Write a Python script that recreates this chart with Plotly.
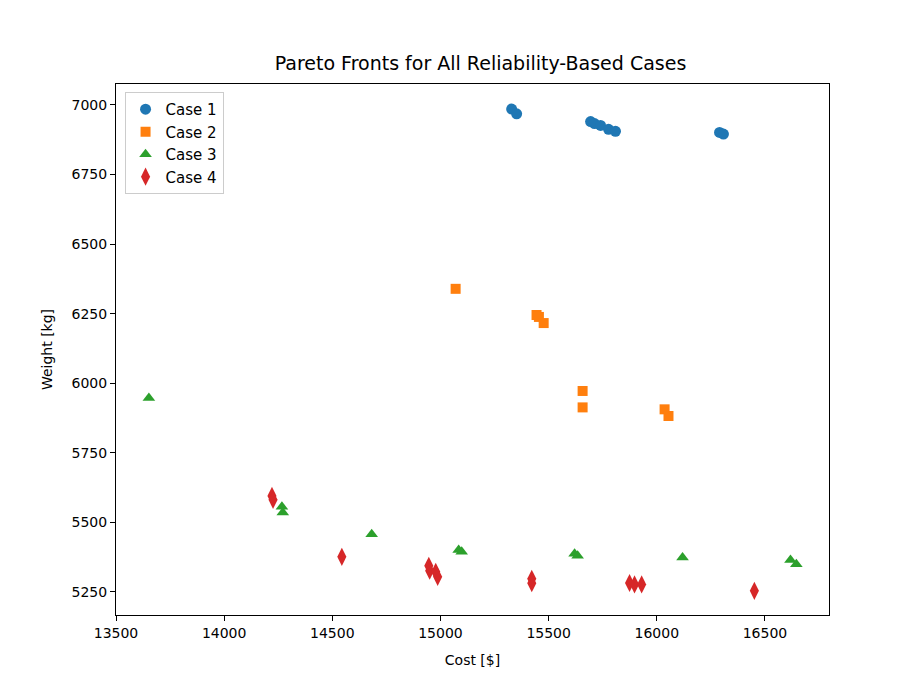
import plotly.graph_objects as go

case1_cost = [15329, 15352, 15694, 15712, 15740, 15777, 15809, 16290, 16308]
case1_weight = [6985, 6968, 6940, 6933, 6926, 6912, 6905, 6901, 6895]
case2_cost = [15070, 15444, 15455, 15477, 15657, 15657, 16036, 16054]
case2_weight = [6339, 6245, 6238, 6216, 5972, 5913, 5906, 5882]
case3_cost = [13652, 14267, 14271, 14682, 15084, 15098, 15620, 15634, 16119, 16618, 16645]
case3_weight = [5947, 5556, 5535, 5457, 5401, 5394, 5387, 5380, 5374, 5365, 5349]
case4_cost = [14221, 14226, 14544, 14946, 14950, 14978, 14987, 15422, 15422, 15874, 15897, 15930, 16451]
case4_weight = [5595, 5581, 5376, 5344, 5326, 5322, 5304, 5297, 5281, 5282, 5277, 5277, 5254]

series = [
    ("Case 1", case1_cost, case1_weight, "#1f77b4", "circle", 11),
    ("Case 2", case2_cost, case2_weight, "#ff7f0e", "square", 10),
    ("Case 3", case3_cost, case3_weight, "#2ca02c", "triangle-up", 11),
    ("Case 4", case4_cost, case4_weight, "#d62728", "diamond-tall", 13),
]

fig = go.Figure()
for name, x, y, color, symbol, size in series:
    fig.add_trace(go.Scatter(x=x, y=y, mode="markers", name=name,
                             marker=dict(color=color, symbol=symbol, size=size, line=dict(width=0))))

axis_common = dict(showgrid=False, zeroline=False, showline=True, linecolor="black", mirror=True,
                   ticks="outside", ticklen=5, tickcolor="black", tickfont=dict(size=14),
                   tickformat="d")

fig.update_layout(
    width=921, height=691,
    paper_bgcolor="white", plot_bgcolor="white",
    font=dict(family="DejaVu Sans", color="black"),
    margin=dict(l=108, r=100, t=76, b=84),
    title=dict(text="Pareto Fronts for All Reliability-Based Cases", x=0.513, y=0.93,
               xanchor="center", font=dict(size=19)),
    xaxis=dict(title=dict(text="Cost [$]", font=dict(size=14)), range=[13500, 16796],
               tickvals=[13500, 14000, 14500, 15000, 15500, 16000, 16500], **axis_common),
    yaxis=dict(title=dict(text="Weight [kg]", font=dict(size=14)), range=[5167, 7075],
               tickvals=[5250, 5500, 5750, 6000, 6250, 6500, 6750, 7000], **axis_common),
    legend=dict(x=0.012, y=0.985, xanchor="left", yanchor="top", bgcolor="white",
                bordercolor="#cccccc", borderwidth=1, font=dict(size=15)),
)

fig.write_html("out.html")
